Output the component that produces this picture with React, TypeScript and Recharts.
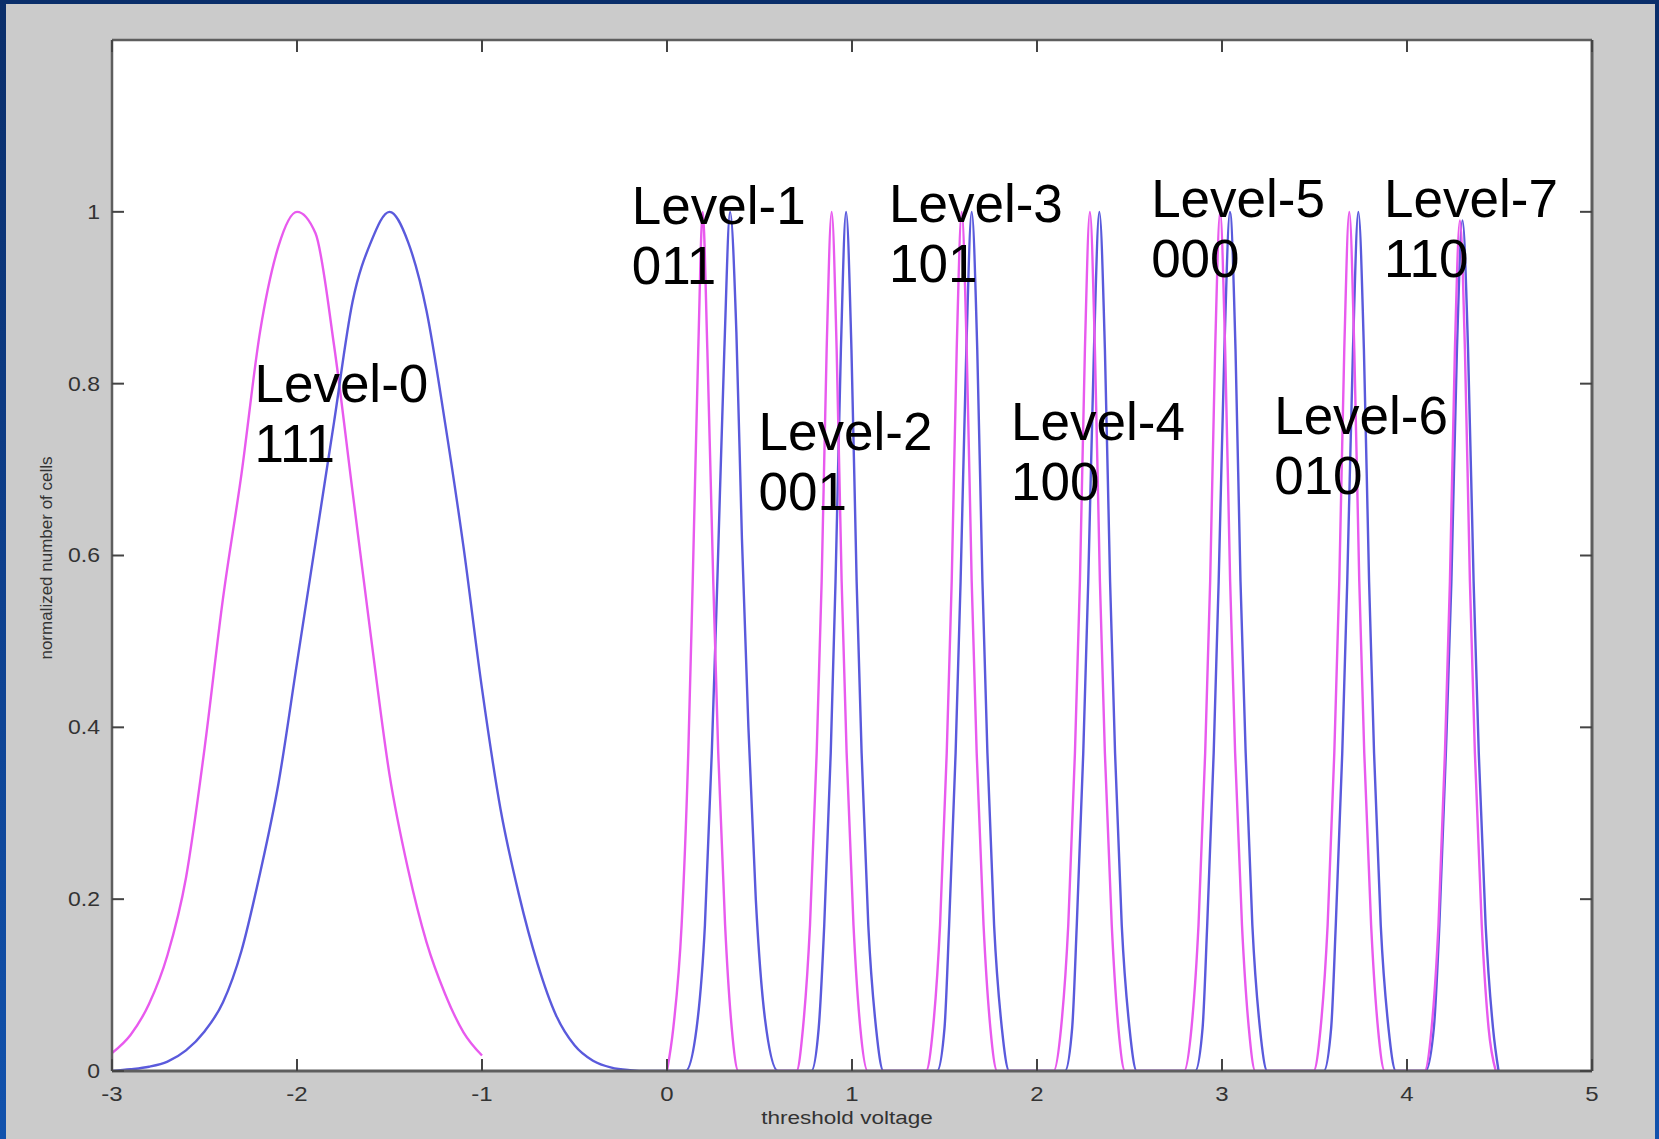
import { LineChart, Line, XAxis, YAxis, ReferenceDot } from 'recharts';

// threshold voltage distributions as [x, y]
const pinkLevel0: [number, number][] = [
  [-3, 0.021], [-2.9, 0.042], [-2.8, 0.078], [-2.7, 0.135], [-2.6, 0.225], [-2.5, 0.375],
  [-2.4, 0.55], [-2.3, 0.695], [-2.2, 0.86], [-2.1, 0.96], [-2.0, 1.0], [-1.9, 0.975],
  [-1.8, 0.845], [-1.7, 0.675], [-1.6, 0.505], [-1.5, 0.345], [-1.4, 0.235], [-1.3, 0.15],
  [-1.2, 0.09], [-1.1, 0.045], [-1.0, 0.018],
];

const pinkPeaks: [number, number][] = [
  // level 1
  [0.0, 0], [0.034, 0.05], [0.079, 0.17], [0.115, 0.37], [0.139, 0.57], [0.169, 0.84], [0.193, 1.0],
  [0.218, 0.84], [0.25, 0.57], [0.277, 0.37], [0.314, 0.17], [0.35, 0.05], [0.386, 0],
  // level 2
  [0.70, 0], [0.735, 0.05], [0.773, 0.17], [0.809, 0.37], [0.836, 0.57], [0.863, 0.84], [0.89, 1.0],
  [0.917, 0.84], [0.944, 0.57], [0.971, 0.37], [1.008, 0.17], [1.045, 0.05], [1.085, 0],
  // level 3
  [1.40, 0], [1.438, 0.05], [1.476, 0.17], [1.512, 0.37], [1.539, 0.57], [1.566, 0.84], [1.593, 1.0],
  [1.62, 0.84], [1.647, 0.57], [1.674, 0.37], [1.711, 0.17], [1.748, 0.05], [1.785, 0],
  // level 4
  [2.09, 0], [2.13, 0.05], [2.169, 0.17], [2.205, 0.37], [2.232, 0.57], [2.259, 0.84], [2.286, 1.0],
  [2.313, 0.84], [2.34, 0.57], [2.367, 0.37], [2.404, 0.17], [2.44, 0.05], [2.476, 0],
  // level 5
  [2.795, 0], [2.835, 0.05], [2.873, 0.17], [2.909, 0.37], [2.936, 0.57], [2.963, 0.84], [2.99, 1.0],
  [3.017, 0.84], [3.044, 0.57], [3.071, 0.37], [3.108, 0.17], [3.145, 0.05], [3.18, 0],
  // level 6
  [3.495, 0], [3.533, 0.05], [3.571, 0.17], [3.607, 0.37], [3.634, 0.57], [3.661, 0.84], [3.688, 1.0],
  [3.715, 0.84], [3.742, 0.57], [3.769, 0.37], [3.806, 0.17], [3.843, 0.05], [3.88, 0],
  // level 7
  [4.095, 0], [4.133, 0.05], [4.17, 0.17], [4.205, 0.37], [4.232, 0.57], [4.259, 0.84], [4.286, 0.99],
  [4.313, 0.84], [4.34, 0.57], [4.367, 0.37], [4.404, 0.17], [4.441, 0.05], [4.48, 0],
];

const blueCurve: [number, number][] = [
  // level 0
  [-3, 0], [-2.9, 0.002], [-2.8, 0.005], [-2.7, 0.011], [-2.6, 0.024], [-2.5, 0.046], [-2.4, 0.08],
  [-2.3, 0.14], [-2.2, 0.23], [-2.1, 0.335], [-2.0, 0.475], [-1.9, 0.615], [-1.8, 0.755], [-1.7, 0.895],
  [-1.6, 0.965], [-1.5, 1.0], [-1.4, 0.965], [-1.3, 0.885], [-1.2, 0.755], [-1.1, 0.61], [-1.0, 0.445],
  [-0.9, 0.305], [-0.8, 0.205], [-0.7, 0.125], [-0.6, 0.065], [-0.5, 0.03], [-0.4, 0.012],
  [-0.3, 0.004], [-0.2, 0.001], [-0.1, 0],
  // level 1
  [0.10, 0], [0.16, 0.05], [0.205, 0.17], [0.242, 0.37], [0.272, 0.57], [0.31, 0.84], [0.341, 1.0],
  [0.375, 0.86], [0.405, 0.62], [0.44, 0.40], [0.48, 0.2], [0.53, 0.06], [0.60, 0],
  // level 2
  [0.78, 0], [0.82, 0.05], [0.85, 0.17], [0.885, 0.37], [0.911, 0.57], [0.94, 0.84], [0.968, 1.0],
  [0.997, 0.84], [1.025, 0.57], [1.052, 0.37], [1.088, 0.17], [1.13, 0.05], [1.17, 0],
  // level 3
  [1.46, 0], [1.50, 0.05], [1.525, 0.17], [1.56, 0.37], [1.587, 0.57], [1.618, 0.84], [1.647, 1.0],
  [1.677, 0.84], [1.705, 0.57], [1.732, 0.37], [1.768, 0.17], [1.81, 0.05], [1.85, 0],
  // level 4
  [2.151, 0], [2.19, 0.05], [2.215, 0.17], [2.25, 0.37], [2.277, 0.57], [2.308, 0.84], [2.337, 1.0],
  [2.367, 0.84], [2.395, 0.57], [2.422, 0.37], [2.458, 0.17], [2.50, 0.05], [2.539, 0],
  // level 5
  [2.855, 0], [2.895, 0.05], [2.92, 0.17], [2.955, 0.37], [2.982, 0.57], [3.013, 0.84], [3.043, 1.0],
  [3.073, 0.84], [3.10, 0.57], [3.128, 0.37], [3.164, 0.17], [3.205, 0.05], [3.245, 0],
  // level 6
  [3.55, 0], [3.59, 0.05], [3.615, 0.17], [3.65, 0.37], [3.677, 0.57], [3.708, 0.84], [3.737, 1.0],
  [3.767, 0.84], [3.795, 0.57], [3.822, 0.37], [3.858, 0.17], [3.90, 0.05], [3.94, 0],
  // level 7
  [4.10, 0], [4.145, 0.05], [4.175, 0.17], [4.21, 0.37], [4.24, 0.57], [4.27, 0.84], [4.30, 0.99],
  [4.33, 0.84], [4.36, 0.57], [4.388, 0.37], [4.425, 0.17], [4.465, 0.05], [4.495, 0],
];

const X_TICKS = [-3, -2, -1, 0, 1, 2, 3, 4, 5];
const Y_TICKS = [0, 0.2, 0.4, 0.6, 0.8, 1];

const LEVEL_NAMES = ['Level-0', 'Level-1', 'Level-2', 'Level-3', 'Level-4', 'Level-5', 'Level-6', 'Level-7'];
const LEVEL_CODES = ['111', '011', '001', '101', '100', '000', '010', '110'];
// where each annotation starts (data coords: left edge, first baseline)
const LABEL_POS: [number, number][] = [
  [-2.23, 0.779], [-0.19, 0.986], [0.495, 0.723], [1.2, 0.988],
  [1.86, 0.735], [2.617, 0.994], [3.282, 0.741], [3.876, 0.994],
];

const PINK = '#e85aee';
const BLUE = '#5a5adc';
const FRAME = '#5e5e5e';
const TICK_LEN = 12;
const AXIS_FONT = '"Liberation Sans", Arial, sans-serif';

const toPoints = (arr: [number, number][]) => arr.map(([x, y]) => ({ x, y }));

function BottomTick(props: any) {
  const { x, y, payload } = props;
  return (
    <g>
      <line x1={x} x2={x} y1={y} y2={y - TICK_LEN} stroke="#444" strokeWidth={2} />
      <text
        x={x}
        y={y + 30}
        textAnchor="middle"
        fontSize={20}
        fill="#333"
        fontFamily={AXIS_FONT}
        transform={`translate(${x} 0) scale(1.2 1) translate(${-x} 0)`}
      >
        {payload.value}
      </text>
    </g>
  );
}

function TopTick(props: any) {
  const { x, y } = props;
  return <line x1={x} x2={x} y1={y} y2={y + TICK_LEN} stroke="#444" strokeWidth={2} />;
}

function LeftTick(props: any) {
  const { x, y, payload } = props;
  return (
    <g>
      <line x1={x} x2={x + TICK_LEN} y1={y} y2={y} stroke="#444" strokeWidth={2} />
      <text
        x={x - 12}
        y={y + 7}
        textAnchor="end"
        fontSize={20}
        fill="#333"
        fontFamily={AXIS_FONT}
        transform={`translate(${x - 12} 0) scale(1.15 1) translate(${-(x - 12)} 0)`}
      >
        {payload.value}
      </text>
    </g>
  );
}

function RightTick(props: any) {
  const { x, y } = props;
  return <line x1={x} x2={x - TICK_LEN} y1={y} y2={y} stroke="#444" strokeWidth={2} />;
}

export default function App() {
  return (
    <div
      style={{
        position: 'absolute',
        left: 0,
        top: 0,
        width: 1659,
        height: 1139,
        background: 'linear-gradient(180deg, #0a2e6a 0%, #0d3f8c 50%, #1152ad 100%)',
        fontFamily: AXIS_FONT,
      }}
    >
      <div style={{ position: 'absolute', left: 6, top: 4, width: 1649, height: 1135, background: '#cbcbcb' }} />
      <div style={{ position: 'absolute', left: 112, top: 40, width: 1480, height: 1031, background: '#ffffff' }} />
      <div style={{ position: 'absolute', left: 0, top: 0 }}>
        <LineChart width={1659} height={1139} margin={{ top: 39, right: 66, bottom: 67, left: 111 }}>
          <XAxis
            type="number"
            dataKey="x"
            domain={[-3, 5]}
            ticks={X_TICKS}
            interval={0}
            allowDataOverflow
            height={1}
            tickSize={0}
            tickMargin={0}
            tickLine={false}
            axisLine={{ stroke: FRAME, strokeWidth: 3 }}
            tick={(p: any) => <BottomTick {...p} />}
          />
          <XAxis
            xAxisId="top"
            orientation="top"
            type="number"
            dataKey="x"
            domain={[-3, 5]}
            ticks={X_TICKS}
            interval={0}
            allowDataOverflow
            height={1}
            tickSize={0}
            tickMargin={0}
            tickLine={false}
            axisLine={{ stroke: FRAME, strokeWidth: 2.5 }}
            tick={(p: any) => <TopTick {...p} />}
          />
          <YAxis
            type="number"
            domain={[0, 1.2]}
            ticks={Y_TICKS}
            interval={0}
            allowDataOverflow
            width={1}
            tickSize={0}
            tickMargin={0}
            tickLine={false}
            axisLine={{ stroke: FRAME, strokeWidth: 2.5 }}
            tick={(p: any) => <LeftTick {...p} />}
          />
          <YAxis
            yAxisId="right"
            orientation="right"
            type="number"
            domain={[0, 1.2]}
            ticks={Y_TICKS}
            interval={0}
            allowDataOverflow
            width={1}
            tickSize={0}
            tickMargin={0}
            tickLine={false}
            axisLine={{ stroke: FRAME, strokeWidth: 3 }}
            tick={(p: any) => <RightTick {...p} />}
          />
          <Line data={toPoints(pinkLevel0)} dataKey="y" type="monotone" stroke={PINK} strokeWidth={2.4} dot={false} isAnimationActive={false} />
          <Line data={toPoints(blueCurve)} dataKey="y" type="monotone" stroke={BLUE} strokeWidth={2.4} dot={false} isAnimationActive={false} />
          <Line data={toPoints(pinkPeaks)} dataKey="y" type="monotone" stroke={PINK} strokeWidth={2.4} dot={false} isAnimationActive={false} />
          {LABEL_POS.map(([lx, ly], i) => (
            <ReferenceDot
              key={LEVEL_NAMES[i]}
              x={lx}
              y={ly}
              r={0}
              fill="none"
              stroke="none"
              ifOverflow="visible"
              label={{
                content: (lp: any) => {
                  const vb = lp.viewBox || {};
                  return (
                    <text x={vb.x} y={vb.y} fontSize={53} fill="#000" fontFamily={AXIS_FONT}>
                      <tspan x={vb.x}>{LEVEL_NAMES[i]}</tspan>
                      <tspan x={vb.x} dy={60}>{LEVEL_CODES[i]}</tspan>
                    </text>
                  );
                },
              }}
            />
          ))}
        </LineChart>
      </div>
      <div
        style={{
          position: 'absolute',
          left: 47,
          top: 558,
          transform: 'translate(-50%, -50%) rotate(-90deg)',
          fontSize: 17,
          color: '#333',
          whiteSpace: 'nowrap',
        }}
      >
        normalized number of cells
      </div>
      <div
        style={{
          position: 'absolute',
          left: 847,
          top: 1118,
          transform: 'translate(-50%, -50%) scaleX(1.25)',
          fontSize: 18,
          color: '#333',
          whiteSpace: 'nowrap',
        }}
      >
        threshold voltage
      </div>
    </div>
  );
}
